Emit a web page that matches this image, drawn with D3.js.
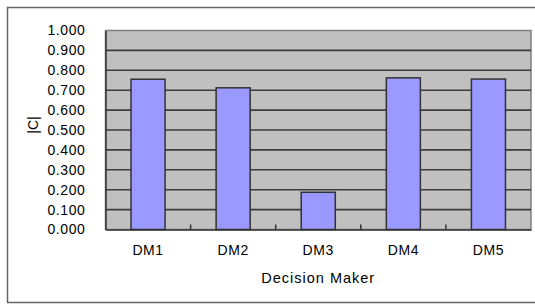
<!DOCTYPE html>
<html>
<head>
<meta charset="utf-8">
<script src="https://cdn.jsdelivr.net/npm/d3@7"></script>
<style>
  body { margin: 0; background: #fff; }
  text { font-family: "Liberation Sans", Arial, sans-serif; fill: #000; }
</style>
</head>
<body>
<div id="chart"></div>
<script>
// values
const makers = ["DM1", "DM2", "DM3", "DM4", "DM5"];
const ciValues = [0.755, 0.712, 0.187, 0.762, 0.756];
const yTicks = [0, 0.1, 0.2, 0.3, 0.4, 0.5, 0.6, 0.7, 0.8, 0.9, 1.0];

var width = 535, height = 305;
var margin = {top: 30.5, right: 4, bottom: 75.5, left: 105.5};

const svg = d3.select("#chart")
  .append("svg")
    .attr("width", width)
    .attr("height", height);

// outer chart frame (right side runs off the picture)
svg.append("path")
  .attr("d", "M540,7.5 H7.5 V302.5 H540")
  .attr("fill", "none")
  .attr("stroke", "#666")
  .attr("stroke-width", 1.5);

var x = d3.scaleBand()
  .domain(makers)
  .range([margin.left, width - margin.right])
  .paddingInner(0.6)
  .paddingOuter(0.3);

var y = d3.scaleLinear()
  .domain([0, 1])
  .range([height - margin.bottom, margin.top]);

// plot area
svg.append("rect")
  .attr("x", margin.left)
  .attr("y", margin.top)
  .attr("width", width - margin.right - margin.left)
  .attr("height", y(0) - y(1))
  .attr("fill", "#c0c0c0")
  .attr("stroke", "#808080")
  .attr("stroke-width", 1.5);

// gridlines
svg.append("g")
  .selectAll("line")
  .data(yTicks.filter(d => d > 0 && d < 1))
  .enter()
  .append("line")
    .attr("x1", margin.left)
    .attr("x2", width - margin.right)
    .attr("y1", d => y(d))
    .attr("y2", d => y(d))
    .attr("stroke", "#3c3c3c")
    .attr("stroke-width", 1.6);

// bars
svg.append("g")
  .selectAll("rect")
  .data(ciValues)
  .enter()
  .append("rect")
    .attr("x", (d, i) => x(makers[i]))
    .attr("y", d => y(d))
    .attr("width", x.bandwidth())
    .attr("height", d => y(0) - y(d))
    .attr("fill", "#9999ff")
    .attr("stroke", "#333")
    .attr("stroke-width", 1.5);

// y axis
svg.append("g")
  .attr("transform", `translate(${margin.left},0)`)
  .call(d3.axisLeft(y).tickValues(yTicks).tickFormat(d3.format(".3f")).tickSize(0).tickPadding(20))
  .call(g => g.select(".domain").attr("stroke", "#333").attr("stroke-width", 1.5))
  .call(g => g.selectAll("text").attr("font-size", 14).style("letter-spacing", "0.6px")
    .attr("font-family", "Liberation Sans, Arial, sans-serif"));

// x axis: ticks between categories, pointing inwards
var between = makers.slice(1).map(m => x(m) - x.step() * x.paddingInner() / 2);
svg.append("g")
  .attr("transform", `translate(0,${y(0)})`)
  .call(d3.axisBottom(x).tickSize(0).tickPadding(16))
  .call(g => g.select(".domain").attr("stroke", "#333").attr("stroke-width", 1.5))
  .call(g => g.selectAll("text").attr("font-size", 14).style("letter-spacing", "0.6px")
    .attr("font-family", "Liberation Sans, Arial, sans-serif"))
  .call(g => g.selectAll(".mid")
    .data(between)
    .enter()
    .append("line")
      .attr("x1", d => d).attr("x2", d => d)
      .attr("y1", 0).attr("y2", -5)
      .attr("stroke", "#333").attr("stroke-width", 1.5));

// axis titles
svg.append("text")
  .attr("x", (margin.left + width - margin.right) / 2 - 0)
  .attr("y", 283)
  .attr("text-anchor", "middle")
  .attr("font-size", 14.5)
  .style("letter-spacing", "1px")
  .text("Decision Maker");

svg.append("text")
  .attr("transform", "translate(38,125) rotate(-90)")
  .attr("text-anchor", "middle")
  .attr("font-size", 14)
  .text("|C|");
</script>
</body>
</html>
